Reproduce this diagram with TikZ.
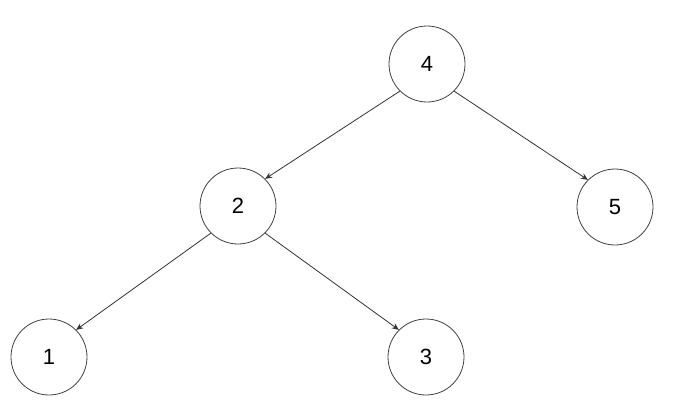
\documentclass[tikz,border=0pt]{standalone}
\usepackage{fontspec}
\setmainfont{Liberation Sans}
\usetikzlibrary{arrows.meta}
\begin{document}
\begin{tikzpicture}[x=1pt,y=-1pt,
  tnode/.style={circle,draw=black!75,line width=0.8pt,minimum size=76pt,inner sep=0pt,font=\fontsize{22}{24}\selectfont},
  edge/.style={draw=black!80,line width=0.8pt,-{Stealth[length=7pt,width=6pt]}}]
\useasboundingbox (0,0) rectangle (682,418);
\node[tnode] (n4) at (427,64) {4};
\node[tnode] (n2) at (238,206) {2};
\node[tnode] (n5) at (615,207) {5};
\node[tnode] (n1) at (49,357) {1};
\node[tnode] (n3) at (426,357) {3};
\draw[edge] (n4.225) -- (n2.45);
\draw[edge] (n4.-45) -- (n5.135);
\draw[edge] (n2.225) -- (n1.45);
\draw[edge] (n2.-45) -- (n3.135);
\end{tikzpicture}
\end{document}
